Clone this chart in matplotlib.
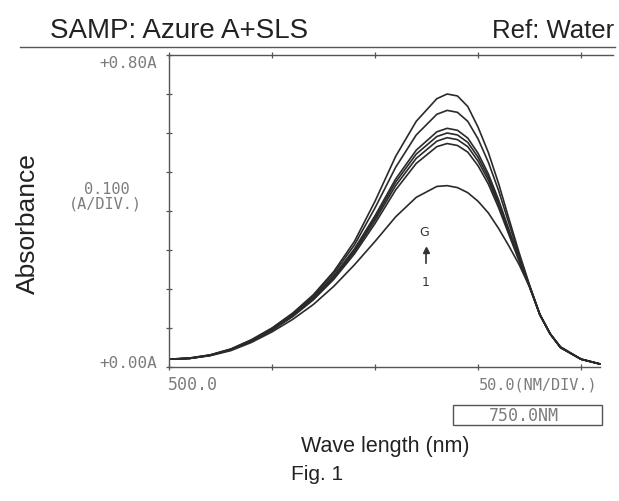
import matplotlib
matplotlib.use("Agg")
import matplotlib.pyplot as plt
from matplotlib.lines import Line2D
from matplotlib.patches import Rectangle

# wavelength grid (nm)
wavelength = [500, 510, 520, 530, 540, 550, 560, 570, 580, 590, 600, 610, 620, 630,
              635, 640, 645, 650, 655, 660, 665, 670, 675, 680, 685, 690, 700, 709]

# absorbance of each trace (1 = lowest ... G = highest)
abs_1 = [0.020, 0.022, 0.029, 0.042, 0.063, 0.090, 0.122, 0.160, 0.207, 0.262, 0.322, 0.385, 0.435, 0.463,
         0.465, 0.460, 0.447, 0.425, 0.395, 0.355, 0.310, 0.262, 0.205, 0.135, 0.085, 0.050, 0.020, 0.008]
abs_B = [0.020, 0.022, 0.030, 0.044, 0.066, 0.094, 0.129, 0.172, 0.225, 0.290, 0.368, 0.454, 0.522, 0.565,
         0.573, 0.568, 0.551, 0.516, 0.469, 0.408, 0.339, 0.271, 0.206, 0.134, 0.085, 0.050, 0.020, 0.008]
abs_C = [0.020, 0.022, 0.030, 0.044, 0.067, 0.095, 0.131, 0.174, 0.228, 0.295, 0.376, 0.465, 0.535, 0.579,
         0.588, 0.583, 0.565, 0.528, 0.479, 0.416, 0.344, 0.274, 0.206, 0.134, 0.085, 0.050, 0.020, 0.008]
abs_D = [0.020, 0.022, 0.030, 0.045, 0.067, 0.096, 0.132, 0.176, 0.231, 0.299, 0.382, 0.474, 0.546, 0.591,
         0.600, 0.595, 0.576, 0.538, 0.487, 0.422, 0.348, 0.276, 0.207, 0.134, 0.085, 0.050, 0.020, 0.008]
abs_E = [0.020, 0.022, 0.030, 0.045, 0.068, 0.097, 0.133, 0.178, 0.234, 0.303, 0.388, 0.482, 0.556, 0.603,
         0.612, 0.607, 0.587, 0.548, 0.495, 0.428, 0.352, 0.278, 0.207, 0.134, 0.085, 0.050, 0.020, 0.008]
abs_F = [0.020, 0.023, 0.031, 0.046, 0.069, 0.099, 0.136, 0.182, 0.240, 0.313, 0.408, 0.512, 0.595, 0.648,
         0.658, 0.653, 0.630, 0.585, 0.525, 0.452, 0.368, 0.285, 0.208, 0.134, 0.085, 0.051, 0.020, 0.008]
abs_G = [0.020, 0.023, 0.031, 0.046, 0.070, 0.100, 0.138, 0.185, 0.245, 0.322, 0.425, 0.540, 0.630, 0.688,
         0.700, 0.695, 0.668, 0.615, 0.550, 0.470, 0.380, 0.292, 0.210, 0.135, 0.085, 0.052, 0.020, 0.008]
traces = [abs_1, abs_B, abs_C, abs_D, abs_E, abs_F, abs_G]

x_ticks = [500, 550, 600, 650, 700]
y_ticks = [0.0, 0.1, 0.2, 0.3, 0.4, 0.5, 0.6, 0.7, 0.8]

W, H = 619, 502
fig = plt.figure(figsize=(W / 100, H / 100), dpi=100)
fig.patch.set_facecolor("white")

def fx(px):
    return px / W

def fy(py):
    return 1 - py / H

ax = fig.add_axes([fx(169), fy(368), fx(613) - fx(169), fy(56) - fy(368)])
for y in traces:
    ax.plot(wavelength, y, color="#2a2a2a", lw=1.2)

ax.set_xlim(500, 715.5)
ax.set_ylim(0, 0.8)
ax.set_xticks(x_ticks)
ax.set_yticks(y_ticks)
ax.tick_params(direction="inout", length=5, width=0.9, colors="#555555",
               labelbottom=False, labelleft=False, top=True)
ax.spines["right"].set_visible(False)
ax.spines["bottom"].set_bounds(500, 709)
for s in ["left", "bottom", "top"]:
    ax.spines[s].set_color("#555555")
    ax.spines[s].set_linewidth(1.0)

# upper header rule
fig.add_artist(Line2D([fx(20), fx(615)], [fy(48), fy(48)], color="#555555", lw=1.0))

sans = "Liberation Sans"
mono = "DejaVu Sans Mono"
grey = "#7c7c7c"

fig.text(fx(50), fy(31), "SAMP: Azure A+SLS", family=sans, fontsize=20,
         ha="left", va="center", color="#222222")
fig.text(fx(614), fy(31), "Ref: Water", family=sans, fontsize=18.5,
         ha="right", va="center", color="#222222")

fig.text(fx(157), fy(64), "+0.80A", family=mono, fontsize=11.5, ha="right", va="center", color=grey)
fig.text(fx(157), fy(364), "+0.00A", family=mono, fontsize=11.5, ha="right", va="center", color=grey)
fig.text(fx(107), fy(190), "0.100", family=mono, fontsize=11, ha="center", va="center", color=grey)
fig.text(fx(105), fy(204), "(A/DIV.)", family=mono, fontsize=11, ha="center", va="center", color=grey)
fig.text(fx(193), fy(385), "500.0", family=mono, fontsize=12, ha="center", va="center", color=grey)
fig.text(fx(598), fy(385), "50.0(NM/DIV.)", family=mono, fontsize=11, ha="right", va="center", color=grey)
fig.add_artist(Rectangle((fx(453), fy(426)), fx(602) - fx(453), fy(406) - fy(426),
                         fill=False, edgecolor="#555555", lw=1.0))
fig.text(fx(524), fy(416), "750.0NM", family=mono, fontsize=12, ha="center", va="center", color=grey)

fig.text(fx(28), fy(224), "Absorbance", family=sans, fontsize=19, rotation=90,
         ha="center", va="center", color="#222222")
fig.text(fx(385), fy(447), "Wave length (nm)", family=sans, fontsize=15.5,
         ha="center", va="center", color="#222222")
fig.text(fx(317), fy(475), "Fig. 1", family=sans, fontsize=15,
         ha="center", va="center", color="#222222")

# trace order annotation
fig.text(fx(424), fy(233), "G", family="DejaVu Sans", fontsize=9, ha="center", va="center", color="#333333")
fig.text(fx(426), fy(283), "1", family="DejaVu Sans", fontsize=9, ha="center", va="center", color="#333333")
fig.add_artist(Line2D([fx(426), fx(426)], [fy(264), fy(251)], color="#333333", lw=1.2))
fig.add_artist(Line2D([fx(426)], [fy(251)], marker="^", markersize=4, color="#333333"))

fig.savefig("out.png", dpi=100, facecolor="white")
